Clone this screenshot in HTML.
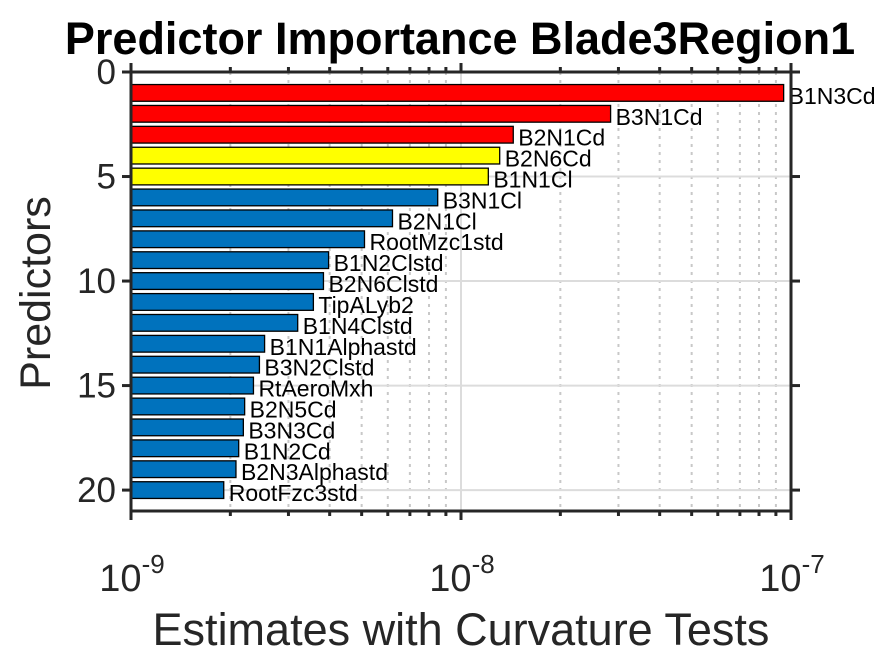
<!DOCTYPE html>
<html><head><meta charset="utf-8"><style>
html,body{margin:0;padding:0;background:#fff;width:875px;height:656px;overflow:hidden}
svg{display:block;font-family:"Liberation Sans",Arial,sans-serif}
</style></head><body>
<svg id="chart" width="875" height="656">
<text x="460" y="54" font-size="45" font-weight="bold" text-anchor="middle" fill="#000">Predictor Importance Blade3Region1</text>
<text x="461" y="645" font-size="45" text-anchor="middle" fill="#262626">Estimates with Curvature Tests</text>
<text x="50" y="293" font-size="43" text-anchor="middle" fill="#262626" transform="rotate(-90 50 293)">Predictors</text>
</svg>
<script>
const names=["B1N3Cd","B3N1Cd","B2N1Cd","B2N6Cd","B1N1Cl","B3N1Cl","B2N1Cl","RootMzc1std","B1N2Clstd","B2N6Clstd","TipALyb2","B1N4Clstd","B1N1Alphastd","B3N2Clstd","RtAeroMxh","B2N5Cd","B3N3Cd","B1N2Cd","B2N3Alphastd","RootFzc3std"];
const values=[9.5e-8,2.84e-8,1.44e-8,1.31e-8,1.21e-8,8.5e-9,6.2e-9,5.1e-9,3.97e-9,3.83e-9,3.57e-9,3.2e-9,2.54e-9,2.45e-9,2.35e-9,2.21e-9,2.19e-9,2.12e-9,2.08e-9,1.91e-9];
const colors=["#ff0000","#ff0000","#ff0000","#ffff00","#ffff00","#0072bd","#0072bd","#0072bd","#0072bd","#0072bd","#0072bd","#0072bd","#0072bd","#0072bd","#0072bd","#0072bd","#0072bd","#0072bd","#0072bd","#0072bd"];
const yTicks=[0,5,10,15,20];
const xTickExp=[-9,-8,-7];
const L=131,R=791,T=72,B=511;
const xs=v=>L+(Math.log10(v)+9)/2*(R-L);
const ys=u=>T+u/21*(B-T);
const svg=document.getElementById('chart');
const NS='http://www.w3.org/2000/svg';
function add(tag,attrs,parent){const e=document.createElementNS(NS,tag);for(const k in attrs)e.setAttribute(k,attrs[k]);(parent||svg).appendChild(e);return e;}
for(let d=-9;d<-7;d++){for(let m=2;m<=9;m++){const x=xs(m*Math.pow(10,d));
const g=add('line',{x1:x,x2:x,y1:T,y2:B,stroke:'#c8c8c8','stroke-width':2,'stroke-dasharray':'3,5'});

}}
xTickExp.forEach(e=>{const x=xs(Math.pow(10,e));
const g=add('line',{x1:x,x2:x,y1:T,y2:B,stroke:'#dcdcdc','stroke-width':2});

});
yTicks.forEach(t=>{const y=ys(t);
const g=add('line',{x1:L,x2:R,y1:y,y2:y,stroke:'#dcdcdc','stroke-width':2});

});
values.forEach((v,i)=>{const c=ys(i+1);
const r=add('rect',{x:L,y:c-0.4*(B-T)/21,width:xs(v)-L,height:0.8*(B-T)/21,fill:colors[i],stroke:'#000','stroke-width':1.3});


const t=add('text',{x:xs(v)+5,y:c+11,'font-size':23,fill:'#000'});
t.textContent=names[i];

});
const box=add('rect',{x:L,y:T,width:R-L,height:B-T,fill:'none',stroke:'#262626','stroke-width':3});


yTicks.forEach(t=>{const y=ys(t);
add('line',{x1:L-9,x2:L,y1:y,y2:y,stroke:'#262626','stroke-width':3});
add('line',{x1:R,x2:R+9,y1:y,y2:y,stroke:'#262626','stroke-width':3});
const lb=add('text',{x:L-15,y:y+12,'font-size':35,'text-anchor':'end',fill:'#262626'});
lb.textContent=t;

});
for(let d=-9;d<=-7;d++){for(let m=1;m<=9;m++){if(d==-7&&m>1)break;const x=xs(m*Math.pow(10,d));const len=m==1?9:5;
add('line',{x1:x,x2:x,y1:B,y2:B+len,stroke:'#262626','stroke-width':3});
add('line',{x1:x,x2:x,y1:T-len,y2:T,stroke:'#262626','stroke-width':3});}}
xTickExp.forEach(e=>{const x=xs(Math.pow(10,e));
const lb=add('text',{x:x+1,y:591,'font-size':38,'text-anchor':'middle',fill:'#262626'});


const base=add('tspan',{},lb);base.textContent='10';
const sp=add('tspan',{dy:-18,'font-size':26},lb);sp.textContent=String(e);});
</script>
</body></html>
